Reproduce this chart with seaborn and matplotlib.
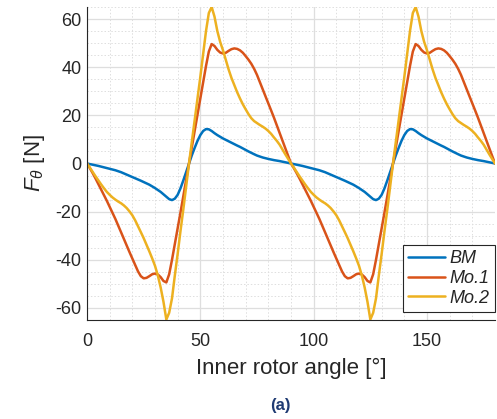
import numpy as np
import pandas as pd
import matplotlib
matplotlib.use("Agg")
import matplotlib.pyplot as plt
import seaborn as sns
from matplotlib.ticker import MultipleLocator

# Inner rotor angle grid (deg), 1.25 deg steps over two electrical periods
angle = np.arange(0, 180.01, 1.25)

# Tangential force F_theta (N) for each model
bm = [0, -0.25, -0.5, -0.75, -1.0, -1.3, -1.6, -1.9, -2.2, -2.5, -2.8, -3.2,
      -3.6, -4.1, -4.6, -5.1, -5.6, -6.1, -6.6, -7.15, -7.7, -8.25, -8.8, -9.5,
      -10.2, -11.0, -11.8, -12.8, -13.8, -14.8, -15.2, -14.6, -13.0, -10.3, -7.0, -3.5,
      0, 3.4, 6.5, 9.4, 11.8, 13.5, 14.3, 14.2, 13.5, 12.6, 11.8, 11.1,
      10.4, 9.8, 9.2, 8.6, 8.0, 7.45, 6.9, 6.25, 5.6, 5.0, 4.4, 3.85,
      3.3, 2.9, 2.5, 2.2, 1.9, 1.65, 1.4, 1.2, 1.0, 0.75, 0.5, 0.25,
      0, -0.25, -0.5, -0.75, -1.0, -1.3, -1.6, -1.9, -2.2, -2.5, -2.8, -3.2,
      -3.6, -4.1, -4.6, -5.1, -5.6, -6.1, -6.6, -7.15, -7.7, -8.25, -8.8, -9.5,
      -10.2, -11.0, -11.8, -12.8, -13.8, -14.8, -15.2, -14.6, -13.0, -10.3, -7.0, -3.5,
      0, 3.4, 6.5, 9.4, 11.8, 13.5, 14.3, 14.2, 13.5, 12.6, 11.8, 11.1,
      10.4, 9.8, 9.2, 8.6, 8.0, 7.45, 6.9, 6.25, 5.6, 5.0, 4.4, 3.85,
      3.3, 2.9, 2.5, 2.2, 1.9, 1.65, 1.4, 1.2, 1.0, 0.75, 0.5, 0.25,
      0]
mo1 = [0, -1.9, -4.0, -6.2, -8.5, -10.7, -13.0, -15.5, -18.0, -20.5, -23.0, -25.7,
       -28.5, -31.3, -34.0, -36.8, -39.5, -42.3, -44.8, -46.8, -47.7, -47.5, -46.8, -46.0,
       -45.7, -46.1, -47.2, -48.8, -49.4, -46.0, -40.0, -33.5, -27.0, -20.3, -13.5, -6.8,
       0, 6.8, 13.5, 20.3, 27.0, 33.8, 40.5, 46.5, 49.6, 48.8, 47.2, 46.1,
       45.7, 46.0, 46.8, 47.5, 47.8, 47.6, 47.0, 46.0, 44.6, 43.1, 41.4, 39.3,
       36.8, 33.8, 30.8, 27.9, 25.0, 22.0, 19.0, 15.8, 12.7, 9.5, 6.3, 3.2,
       0, -1.9, -4.0, -6.2, -8.5, -10.7, -13.0, -15.5, -18.0, -20.5, -23.0, -25.7,
       -28.5, -31.3, -34.0, -36.8, -39.5, -42.3, -44.8, -46.8, -47.7, -47.5, -46.8, -46.0,
       -45.7, -46.1, -47.2, -48.8, -49.4, -46.0, -40.0, -33.5, -27.0, -20.3, -13.5, -6.8,
       0, 6.8, 13.5, 20.3, 27.0, 33.8, 40.5, 46.5, 49.6, 48.8, 47.2, 46.1,
       45.7, 46.0, 46.8, 47.5, 47.8, 47.6, 47.0, 46.0, 44.6, 43.1, 41.4, 39.3,
       36.8, 33.8, 30.8, 27.9, 25.0, 22.0, 19.0, 15.8, 12.7, 9.5, 6.3, 3.2,
       0]
mo2 = [0, -1.7, -3.5, -5.3, -7.0, -8.7, -10.3, -11.8, -13.0, -14.1, -15.0, -15.8,
       -16.5, -17.4, -18.5, -19.9, -21.5, -23.6, -26.0, -28.5, -31.0, -33.7, -36.5, -39.4,
       -42.5, -46.5, -51.5, -57.5, -64.8, -62.0, -56.0, -46.5, -37.5, -28.0, -19.0, -9.5,
       0, 9.0, 18.0, 27.0, 36.0, 45.5, 55.0, 62.5, 65.0, 61.0, 55.0, 50.5,
       47.0, 43.0, 39.0, 35.5, 32.5, 29.6, 27.0, 24.6, 22.5, 20.5, 18.8, 17.6,
       16.8, 16.0, 15.3, 14.5, 13.5, 12.3, 10.8, 9.4, 7.8, 5.8, 3.8, 1.9,
       0, -1.7, -3.5, -5.3, -7.0, -8.7, -10.3, -11.8, -13.0, -14.1, -15.0, -15.8,
       -16.5, -17.4, -18.5, -19.9, -21.5, -23.6, -26.0, -28.5, -31.0, -33.7, -36.5, -39.4,
       -42.5, -46.5, -51.5, -57.5, -64.8, -62.0, -56.0, -46.5, -37.5, -28.0, -19.0, -9.5,
       0, 9.0, 18.0, 27.0, 36.0, 45.5, 55.0, 62.5, 65.0, 61.0, 55.0, 50.5,
       47.0, 43.0, 39.0, 35.5, 32.5, 29.6, 27.0, 24.6, 22.5, 20.5, 18.8, 17.6,
       16.8, 16.0, 15.3, 14.5, 13.5, 12.3, 10.8, 9.4, 7.8, 5.8, 3.8, 1.9,
       0]

series_names = ["BM", "Mo.1", "Mo.2"]
colors = ["#0072BD", "#D95319", "#EDB120"]

sns.set_theme(style="white")
plt.rcParams["font.family"] = ["Liberation Sans", "DejaVu Sans"]
plt.rcParams["mathtext.fontset"] = "custom"
plt.rcParams["mathtext.it"] = "Liberation Sans:italic"
plt.rcParams["mathtext.rm"] = "Liberation Sans"
plt.rcParams["axes.unicode_minus"] = False

df = pd.DataFrame({
    "angle": np.tile(angle, 3),
    "force": np.concatenate([bm, mo1, mo2]),
    "model": np.repeat(series_names, len(angle)),
})

fig = plt.figure(figsize=(4.97, 4.19), dpi=100)
ax = fig.add_axes([87 / 497, 1 - 320 / 419, (495 - 87) / 497, (320 - 7) / 419])

sns.lineplot(data=df, x="angle", y="force", hue="model", hue_order=series_names,
             palette=colors, linewidth=1.8, estimator=None, sort=False, ax=ax)
for line in ax.get_lines():
    line.set_solid_joinstyle("round")

ax.set_xlim(0, 180)
ax.set_ylim(-65, 65)
ax.xaxis.set_major_locator(MultipleLocator(50))
ax.xaxis.set_minor_locator(MultipleLocator(10))
ax.yaxis.set_major_locator(MultipleLocator(20))
ax.yaxis.set_minor_locator(MultipleLocator(5))

ax.grid(which="major", color="#dedede", linewidth=0.9, linestyle="-")
ax.grid(which="minor", color="#dedede", linewidth=0.7, linestyle=(0, (1.5, 2)))
ax.set_axisbelow(True)

for side in ("top", "right"):
    ax.spines[side].set_visible(False)
for side in ("left", "bottom"):
    ax.spines[side].set_color("#262626")
    ax.spines[side].set_linewidth(0.8)

ax.tick_params(which="both", direction="in", color="#262626", labelcolor="#262626",
               labelsize=13)
ax.tick_params(which="major", length=5, width=0.8)
ax.tick_params(which="minor", length=3, width=0.6)
ax.tick_params(axis="x", pad=9)
ax.tick_params(axis="y", pad=4)

ax.set_xlabel("Inner rotor angle [°]", fontsize=16, color="#262626", labelpad=6)
ax.set_ylabel(r"$F_{\theta}$ [N]", fontsize=16, color="#262626", labelpad=6)

handles, labels = ax.get_legend_handles_labels()
leg = ax.legend(handles, labels, loc="lower right", bbox_to_anchor=(1.0, 8 / 313),
                borderaxespad=0, frameon=True, fancybox=False, edgecolor="#262626",
                framealpha=1, prop={"style": "italic", "size": 13},
                handlelength=2.05, handletextpad=0.25, labelspacing=0.15,
                borderpad=0.3)
leg.get_frame().set_linewidth(0.8)

fig.text(280 / 497, 1 - 405 / 419, "(a)", ha="center", va="center",
         fontsize=12, fontweight="bold", color="#1f3b73")

fig.savefig("out.png", dpi=100, facecolor="white")
